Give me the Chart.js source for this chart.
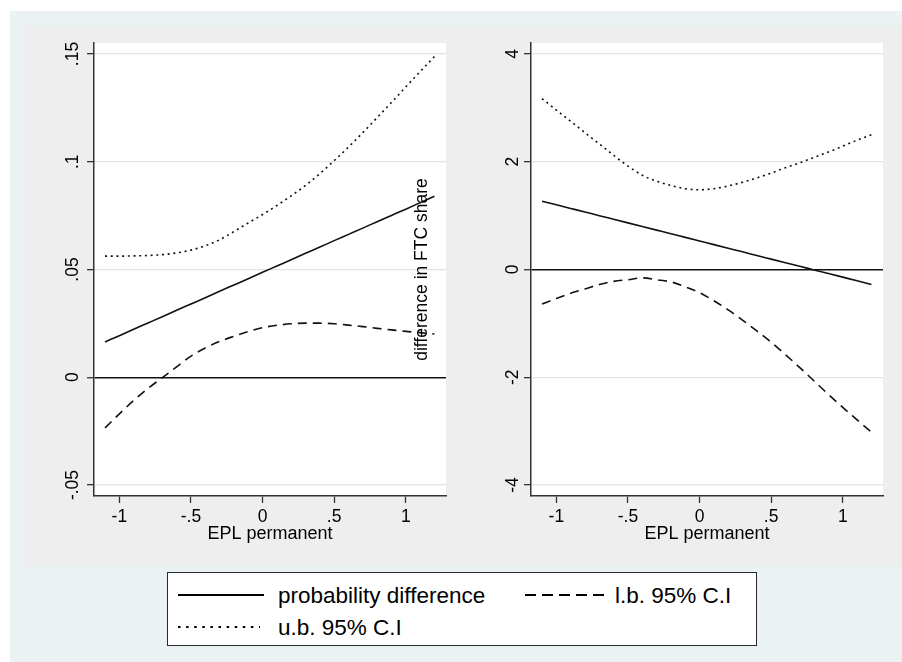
<!DOCTYPE html>
<html>
<head>
<meta charset="utf-8">
<script src="https://cdn.jsdelivr.net/npm/chart.js@4/dist/chart.umd.min.js"></script>
<style>
html,body{margin:0;padding:0;background:#fff;}
#page{position:relative;width:902px;height:662px;overflow:hidden;background:#fff;font-family:"Liberation Sans",Arial,sans-serif;}
#outer{position:absolute;left:10px;top:11px;right:0;bottom:0;background:#EAF2F3;}
#plotbg{position:absolute;left:24px;top:26px;width:878px;height:540px;background:#EEEEEE;}
#c1{position:absolute;left:24px;top:26px;}
#c2{position:absolute;left:405px;top:26px;}
#legend{position:absolute;left:167px;top:572px;width:590px;height:74px;box-sizing:border-box;border:1px solid #2a2a2a;background:#fff;}
.lg-line{position:absolute;}
.lg-text{position:absolute;font-size:22.5px;line-height:22.5px;color:#000;white-space:nowrap;}
</style>
</head>
<body>
<div id="page">
  <div id="outer"></div>
  <div id="plotbg"></div>
  <canvas id="c1" width="430" height="540"></canvas>
  <canvas id="c2" width="497" height="540"></canvas>
  <div id="legend"></div>
</div>
<script>
// ---------- data ----------
const epl = [-1.1,-1.0,-0.9,-0.8,-0.7,-0.6,-0.5,-0.4,-0.3,-0.2,-0.1,0.0,0.1,0.2,0.3,0.4,0.5,0.6,0.7,0.8,0.9,1.0,1.1,1.2];

// left panel
const leftEstimate = [0.0164,0.0193,0.0223,0.0252,0.0281,0.0311,0.0340,0.0369,0.0399,0.0428,0.0457,0.0487,0.0516,0.0545,0.0575,0.0604,0.0634,0.0663,0.0692,0.0722,0.0751,0.0780,0.0810,0.0840];
const leftLower    = [-0.0235,-0.0170,-0.0108,-0.0052,-0.0002,0.0048,0.0098,0.0136,0.0166,0.0190,0.0212,0.0230,0.0241,0.0248,0.0251,0.0251,0.0248,0.0242,0.0235,0.0227,0.0220,0.0213,0.0207,0.0201];
const leftUpper    = [0.0562,0.0562,0.0563,0.0565,0.0569,0.0577,0.0590,0.0610,0.0638,0.0676,0.0716,0.0755,0.0797,0.0842,0.0890,0.0945,0.1005,0.1068,0.1135,0.1205,0.1275,0.1347,0.1418,0.1488];

// right panel
const rightEstimate = [1.268,1.201,1.134,1.067,0.999,0.932,0.865,0.798,0.731,0.664,0.596,0.529,0.462,0.395,0.328,0.260,0.193,0.126,0.059,-0.008,-0.075,-0.142,-0.209,-0.278];
const rightLower    = [-0.64,-0.54,-0.44,-0.36,-0.28,-0.22,-0.19,-0.155,-0.19,-0.23,-0.32,-0.43,-0.58,-0.75,-0.94,-1.14,-1.35,-1.58,-1.82,-2.07,-2.32,-2.56,-2.79,-3.02];
const rightUpper    = [3.17,2.96,2.75,2.54,2.33,2.12,1.92,1.75,1.64,1.56,1.50,1.48,1.50,1.55,1.62,1.70,1.79,1.89,1.98,2.08,2.18,2.29,2.40,2.50];

const seriesNames = ['probability difference','l.b. 95% C.I','u.b. 95% C.I'];

// ticks
const xTicks = [-1,-0.5,0,0.5,1];
const xTickLabels = ['-1','-.5','0','.5','1'];
const leftYTicks = [-0.05,0,0.05,0.1,0.15];
const leftYTickLabels = ['-.05','0','.05','.1','.15'];
const rightYTicks = [-4,-2,0,2,4];
const rightYTickLabels = ['-4','-2','0','2','4'];

const xTitle = 'EPL permanent';
const yTitleRight = 'difference in FTC share';

// ---------- styling ----------
const FAM = '"Liberation Sans", Arial, sans-serif';
const tickFont = {family: FAM, size: 17.5};
const LINE = '#111';
const styles = [
  {borderDash: []},
  {borderDash: [9,6]},
  {borderDash: [2,3.7]}
];

const areaBg = {
  id: 'areaBg',
  beforeDraw(chart) {
    const {ctx, chartArea: a} = chart;
    ctx.save();
    ctx.fillStyle = '#ffffff';
    ctx.fillRect(a.left, a.top, a.right - a.left, a.bottom - a.top);
    ctx.restore();
  }
};

function toPts(ys) { return epl.map((x, i) => ({x: x, y: ys[i]})); }

function makeChart(id, series, yMin, yMax, yTicks, yLabels, yWidth, yPad, rightPad, yTitleCfg) {
  const datasets = series.map((ys, i) => ({
    label: seriesNames[i],
    data: toPts(ys),
    borderColor: LINE,
    borderWidth: 1.6,
    borderDash: styles[i].borderDash,
    borderCapStyle: 'butt',
    pointRadius: 0,
    fill: false,
    cubicInterpolationMode: 'monotone'
  }));
  return new Chart(document.getElementById(id), {
    type: 'line',
    data: {datasets},
    plugins: [areaBg],
    options: {
      responsive: false,
      animation: false,
      events: [],
      layout: {padding: {left: 0, right: rightPad, top: 17, bottom: 0}},
      plugins: {legend: {display: false}, tooltip: {enabled: false}, title: {display: false}},
      scales: {
        x: {
          type: 'linear', min: -1.177, max: 1.281,
          afterBuildTicks: s => { s.ticks = xTicks.map(v => ({value: v})); },
          afterFit: s => { s.height = 70; },
          ticks: {font: tickFont, color: '#000', padding: 4, maxRotation: 0, minRotation: 0, autoSkip: false,
                  callback: (v, i) => xTickLabels[i]},
          grid: {drawOnChartArea: false, drawTicks: true, tickLength: 7, tickColor: '#333', tickWidth: 1.3},
          border: {color: '#333', width: 1.5},
          title: {display: true, text: xTitle, font: {family: FAM, size: 18}, color: '#000', padding: {top: 0, bottom: 21}}
        },
        y: {
          type: 'linear', min: yMin, max: yMax,
          afterBuildTicks: s => { s.ticks = yTicks.map(v => ({value: v})); },
          afterFit: s => { s.width = yWidth; },
          ticks: {font: tickFont, color: '#000', padding: yPad, minRotation: 90, maxRotation: 90, crossAlign: 'center', autoSkip: false,
                  callback: (v, i) => yLabels[i]},
          grid: {
            color: c => (c.tick && c.tick.value === 0) ? '#111' : '#e3e3e3',
            lineWidth: c => (c.tick && c.tick.value === 0) ? 1.5 : 1.3,
            drawTicks: true, tickLength: 7, tickColor: '#333', tickWidth: 1.3
          },
          border: {color: '#333', width: 1.5},
          title: yTitleCfg
        }
      }
    }
  });
}

makeChart('c1', [leftEstimate, leftLower, leftUpper], -0.0551, 0.1551, leftYTicks, leftYTickLabels, 70, -1.5, 8, {display: false});
makeChart('c2', [rightEstimate, rightLower, rightUpper], -4.204, 4.204, rightYTicks, rightYTickLabels, 126, 3, 19,
  {display: true, text: yTitleRight, font: {family: FAM, size: 17.5}, color: '#000', padding: {top: 6.5, bottom: 0}});

// ---------- legend (HTML) ----------
const legend = document.getElementById('legend');
const lgItems = [
  {name: seriesNames[0], dash: '', lx: 10, tx: 110, y: 22, len: 86, w: 2},
  {name: seriesNames[1], dash: '11 6', lx: 357, tx: 447, y: 22, len: 84, w: 2},
  {name: seriesNames[2], dash: '2.5 5.6', lx: 10, tx: 110, y: 54, len: 82, w: 2}
];
lgItems.forEach(it => {
  const svgNS = 'http://www.w3.org/2000/svg';
  const svg = document.createElementNS(svgNS, 'svg');
  svg.setAttribute('width', it.len);
  svg.setAttribute('height', 6);
  svg.setAttribute('class', 'lg-line');
  svg.style.left = it.lx + 'px';
  svg.style.top = (it.y - 3) + 'px';
  const ln = document.createElementNS(svgNS, 'line');
  ln.setAttribute('x1', 0); ln.setAttribute('y1', 3);
  ln.setAttribute('x2', it.len); ln.setAttribute('y2', 3);
  ln.setAttribute('stroke', '#000');
  ln.setAttribute('stroke-width', it.w);
  if (it.dash) ln.setAttribute('stroke-dasharray', it.dash);
  svg.appendChild(ln);
  legend.appendChild(svg);
  const t = document.createElement('div');
  t.className = 'lg-text';
  t.textContent = it.name;
  t.style.left = it.tx + 'px';
  t.style.top = (it.y - 10) + 'px';
  legend.appendChild(t);
});
</script>
</body>
</html>
